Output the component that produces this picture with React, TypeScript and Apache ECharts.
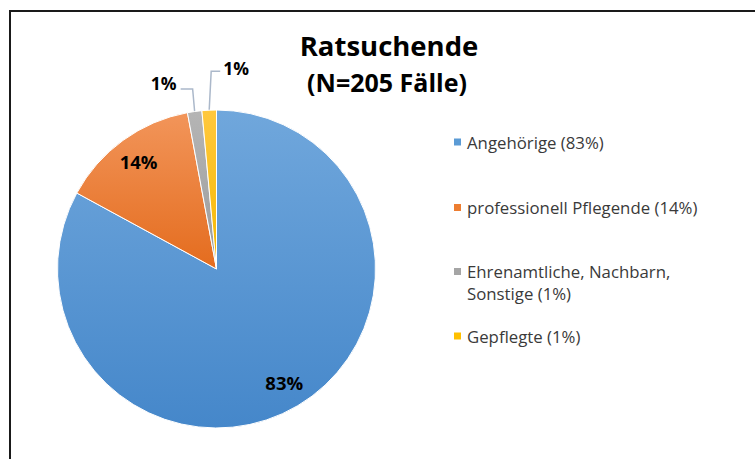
import React, { useEffect, useRef } from 'react';
import * as echarts from 'echarts';

const titleText = 'Ratsuchende';
const subtitleText = '(N=205 Fälle)';
const categories = ['Angehörige', 'professionell Pflegende', 'Ehrenamtliche, Nachbarn, Sonstige', 'Gepflegte'];
const counts = [170, 29, 3, 3];
const iconColors = ['#5B9BD5', '#ED7D31', '#A5A5A5', '#FFC000'];
const gradTop = ['#70A7DC', '#F2955A', '#B5B5B5', '#FFC83E'];
const gradBottom = ['#4587CA', '#E46C1E', '#9B9B9B', '#F5B800'];
const legendIconCenters = [142, 207.5, 271.5, 336];

const FONT = '"Open Sans", "Noto Sans", sans-serif';
const LH = 22;

export default function App() {
  const ref = useRef<HTMLDivElement>(null);
  useEffect(() => {
    if (!ref.current) return;
    const chart = echarts.init(ref.current, undefined, { renderer: 'svg' });
    const total = counts.reduce((a, b) => a + b, 0);
    const pct = (v: number) => Math.round((v / total) * 100);
    const legendText = categories.map((c, i) => {
      const s = `${c} (${pct(counts[i])}%)`;
      return s.includes(', Sonstige') ? '\n' + s.replace(', Sonstige', ',\nSonstige') : s;
    });
    const data = categories.map((name, i) => ({
      name,
      value: counts[i],
      itemStyle: {
        color: new echarts.graphic.LinearGradient(0, 0, 0, 1, [
          { offset: 0, color: gradTop[i] },
          { offset: 1, color: gradBottom[i] },
        ]),
      },
      label: { show: i >= 2 },
      labelLine: { show: i >= 2 },
    }));
    const overlayData = categories.map((name, i) => ({
      name,
      value: counts[i],
      label: { show: i < 2 },
    }));
    const legends = categories.map((name, i) => {
      const lines = legendText[i].split('\n').length;
      return {
        show: true,
        orient: 'vertical',
        left: 452,
        top: legendIconCenters[i] - (lines * LH) / 2,
        padding: 0,
        itemWidth: 9,
        itemHeight: 9,
        itemGap: 6,
        icon: 'rect',
        selectedMode: false,
        data: [{ name, itemStyle: { color: iconColors[i] } }],
        formatter: () => legendText[i],
        textStyle: { fontFamily: FONT, fontSize: 16.8, color: '#3a3a3a', lineHeight: LH },
      };
    });
    chart.setOption({
      animation: false,
      backgroundColor: '#ffffff',
      legend: legends,
      graphic: [
        {
          type: 'rect',
          shape: { x: 10, y: 11, width: 800, height: 500 },
          style: { fill: 'none', stroke: '#1a1a1a', lineWidth: 2 },
          silent: true,
        },
        {
          type: 'text',
          x: 389,
          y: 45,
          style: { text: titleText, align: 'center', verticalAlign: 'middle', font: `bold 27.5px ${FONT}`, fill: '#000' },
        },
        {
          type: 'text',
          x: 387,
          y: 82,
          style: { text: subtitleText, align: 'center', verticalAlign: 'middle', font: `bold 25px ${FONT}`, fill: '#000' },
        },
      ],
      series: [
        {
          type: 'pie',
          center: [216.5, 269],
          radius: 159,
          startAngle: 90,
          clockwise: true,
          avoidLabelOverlap: false,
          emphasis: { disabled: true },
          itemStyle: { borderColor: '#ffffff', borderWidth: 1 },
          label: {
            position: 'outside',
            formatter: (p: any) => Math.round(p.percent) + '%',
            fontFamily: FONT,
            fontWeight: 'bold',
            fontSize: 17.5,
            color: '#000',
          },
          labelLine: { length: 20, length2: 10, lineStyle: { color: '#ABB8CA', width: 1.5 } },
          labelLayout: (params: any) => {
            const pts = params.labelLinePoints;
            if (!pts) return {};
            const [x0, y0] = pts[0];
            if (params.dataIndex === 2) {
              return {
                x: x0 - 18,
                y: y0 - 28.5,
                align: 'right',
                verticalAlign: 'middle',
                labelLinePoints: [[x0, y0], [x0 - 2, y0 - 22.5], [x0 - 14, y0 - 22.5]],
              };
            }
            if (params.dataIndex === 3) {
              return {
                x: x0 + 14,
                y: y0 - 42.5,
                align: 'left',
                verticalAlign: 'middle',
                labelLinePoints: [[x0, y0], [x0 + 2, y0 - 39], [x0 + 11, y0 - 39]],
              };
            }
            return {};
          },
          data,
        },
        {
          type: 'pie',
          center: [216.5, 269],
          radius: [100, 159],
          startAngle: 90,
          clockwise: true,
          silent: true,
          emphasis: { disabled: true },
          itemStyle: { color: 'rgba(0,0,0,0)', borderWidth: 0 },
          label: {
            position: 'inside',
            formatter: (p: any) => Math.round(p.percent) + '%',
            fontFamily: FONT,
            fontWeight: 'bold',
            fontSize: 18.5,
            color: '#000',
          },
          labelLine: { show: false },
          data: overlayData,
        },
      ],
    });
    return () => chart.dispose();
  }, []);
  return (
    <div
      ref={ref}
      style={{ position: 'fixed', left: 0, top: 0, width: 755, height: 459, background: '#fff' }}
    />
  );
}
